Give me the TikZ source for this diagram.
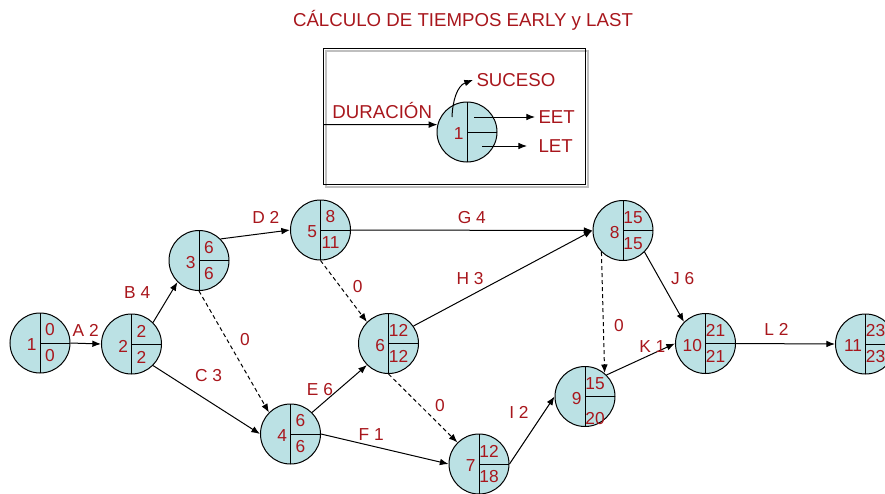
\documentclass[tikz,border=0pt]{standalone}
\usepackage{fontspec}
\setmainfont{Liberation Sans}
\usetikzlibrary{arrows.meta}
\definecolor{rojo}{RGB}{168,22,28}
\definecolor{celeste}{RGB}{187,225,228}

\newcommand{\suceso}[6][13]{%
  \node[ev] (#2) at (#3) {};
  \node[num,anchor=east] (#2n) at ([shift={(-3,2)}]#2.center) {#4};
  \node[num] (#2t) at ([shift={(10,-13)}]#2.center) {#5};
  \node[num] (#2b) at ([shift={(10,#1)}]#2.center) {#6};
}

\begin{document}
\begin{tikzpicture}[x=0.75pt,y=-0.75pt,line width=0.75pt,>={Latex[length=6.5pt,width=5pt]},
  ev/.style={circle,draw,fill=celeste,minimum size=45pt,inner sep=0pt,
    path picture={\draw (path picture bounding box.north) -- (path picture bounding box.south);
      \draw (path picture bounding box.center) -- (path picture bounding box.east);}},
  num/.style={text=rojo,inner sep=0pt,font=\fontsize{13}{15}\selectfont},
  lab/.style={text=rojo,inner sep=0pt,font=\fontsize{13}{15}\selectfont},
  legtxt/.style={text=rojo,inner sep=2.25pt,font=\fontsize{14}{16}\selectfont},
  fic/.style={dashed,dash pattern=on 3pt off 2.25pt}]

        \clip (0,0) rectangle (885,493);

        \node[legtxt] (titulo) at (463,20) {CÁLCULO DE TIEMPOS EARLY y LAST};

        \draw[black!25,line width=1.5pt] (326,51) rectangle (588,187);
        \draw (323,48) rectangle (585,184);

        \suceso{e0}{467,132}{1}{}{}
        \coordinate (dur) at (323,124.5);
        \node[legtxt,anchor=west] (tSuc) at (473,80) {SUCESO};
        \node[legtxt,anchor=west] (tEET) at (535,117) {EET};
        \node[legtxt,anchor=west] (tLET) at (535,146) {LET};

        \draw[->] (dur) -- node[legtxt,shift={(2,-14.5)}] {DURACIÓN} (e0.166);
        \draw[->] ([shift={(-15,-15)}]e0.center) to[out=88,in=200] (tSuc.west);
        \draw[->] ([shift={(7,-15)}]e0.center) -- (tEET.west);
        \draw[->] ([shift={(15,14)}]e0.center) -- ([shift={(-8,0)}]tLET.west);

        \suceso{e1}{40,343}{1}{0}{0}
        \suceso{e2}{131.5,344}{2}{2}{2}
        \suceso{e3}{199,260.5}{3}{6}{6}
        \suceso{e4}{290.5,434}{4}{6}{6}
        \suceso{e5}{320.5,230}{5}{8}{11}
        \suceso{e6}{388.5,343.5}{6}{12}{12}
        \suceso{e7}{479,464}{7}{12}{18}
        \suceso{e8}{623,230.5}{8}{15}{15}
        \suceso[22]{e9}{585,396.5}{9}{15}{20}
        \suceso{e10}{705.5,343.5}{10}{21}{21}
        \suceso{e11}{865.5,344}{11}{23}{23}

        \draw[->] (e1.east) -- node[lab,shift={(0,-13)}] {A 2} (e2.west);
        \draw[->] (e2.45) -- node[lab,shift={(-28,-9.5)}] {B 4} (e3.225);
        \draw[->] (e2.315) -- node[lab,shift={(2,-24)}] {C 3} (e4.west);
        \draw[->,fic] (e3.south) -- node[lab,shift={(11,-12.5)}] {0} (e4.135);
        \draw[->] (e3.45) -- node[lab,shift={(10.5,-17)}] {D 2} (e5.west);
        \draw[->] (e5.east) -- node[lab,shift={(0,-13)}] {G 4} (e8.west);
        \draw[->,fic] (e5.south) -- node[lab,shift={(14,-5)}] {0} (e6.135);
        \draw[->] (e4.45) -- node[lab,shift={(-19.5,0.5)}] {E 6} (e6.225);
        \draw[->] (e4.east) -- node[lab,shift={(-13.5,-14)}] {F 1} (e7.west);
        \draw[->,fic] (e6.south) -- node[lab,shift={(17,-2.5)}] {0} (e7.135);
        \draw[->] (e6.35) -- node[lab,shift={(-33,0)}] {H 3} (e8.west);
        \draw[->] (e7.east) -- node[lab,shift={(-13,-17.5)}] {I 2} (e9.west);
        \draw[->,fic] (e8.225) -- node[lab,shift={(16,12.5)}] {0} (e9.50);
        \draw[->] (e8.315) -- node[lab,shift={(18.5,-8)}] {J 6} (e10.135);
        \draw[->] (e9.45) -- node[lab,shift={(11.5,-13)}] {K 1} (e10.west);
        \draw[->] (e10.east) -- node[lab,shift={(-9,-14)}] {L 2} (e11.west);

\end{tikzpicture}
\end{document}
